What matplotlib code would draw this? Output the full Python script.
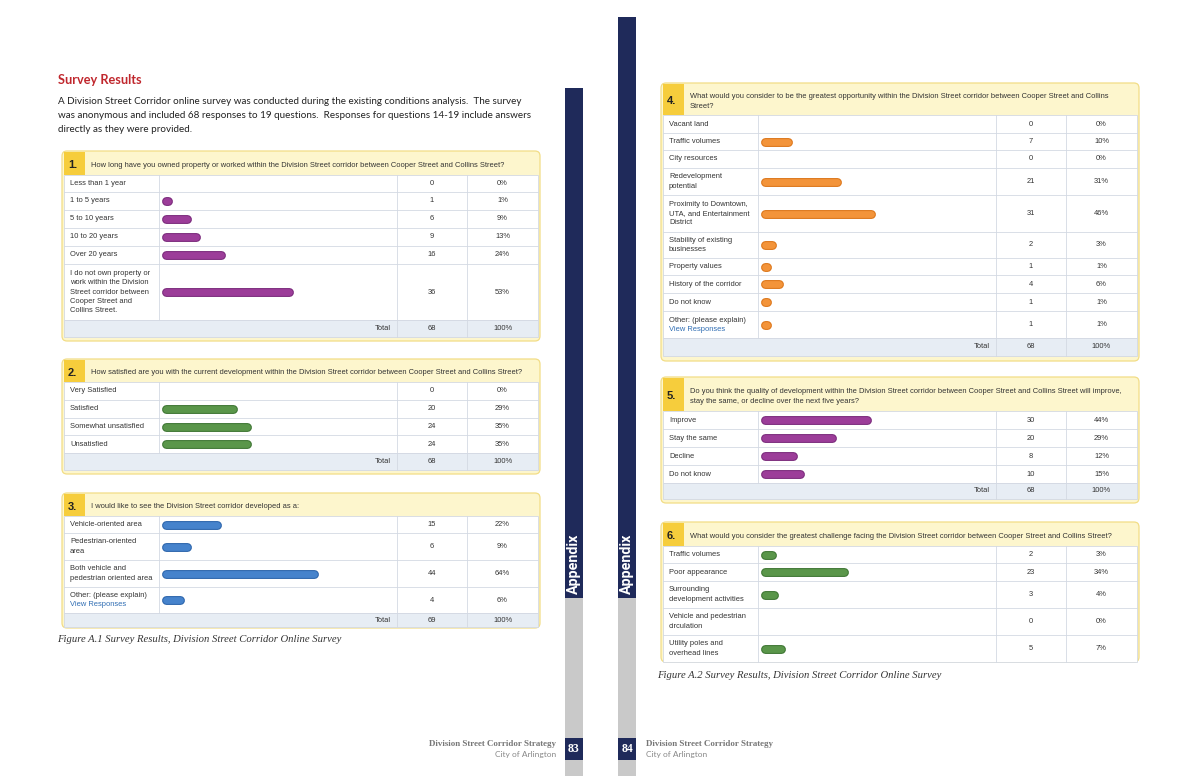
import matplotlib
matplotlib.use("Agg")
import matplotlib.pyplot as plt
from matplotlib.patches import Rectangle, FancyBboxPatch

# ---- survey data ----
q1_question = "How long have you owned property or worked within the Division Street corridor between Cooper Street and Collins Street?"
q1_labels = ["Less than 1 year", "1 to 5 years", "5 to 10 years", "10 to 20 years", "Over 20 years",
             "I do not own property or\nwork within the Division\nStreet corridor between\nCooper Street and\nCollins Street."]
q1_counts = [0, 1, 6, 9, 16, 36]
q1_pcts = [0, 1, 9, 13, 24, 53]
q1_total = 68

q2_question = "How satisfied are you with the current development within the Division Street corridor between Cooper Street and Collins Street?"
q2_labels = ["Very Satisfied", "Satisfied", "Somewhat unsatisfied", "Unsatisfied"]
q2_counts = [0, 20, 24, 24]
q2_pcts = [0, 29, 35, 35]
q2_total = 68

q3_question = "I would like to see the Division Street corridor developed as a:"
q3_labels = ["Vehicle-oriented area", "Pedestrian-oriented\narea", "Both vehicle and\npedestrian oriented area",
             "Other: (please explain)\nView Responses"]
q3_counts = [15, 6, 44, 4]
q3_pcts = [22, 9, 64, 6]
q3_total = 69

q4_question = ("What would you consider to be the greatest opportunity within the Division Street corridor between Cooper Street and Collins\n"
               "Street?")
q4_labels = ["Vacant land", "Traffic volumes", "City resources", "Redevelopment\npotential",
             "Proximity to Downtown,\nUTA, and Entertainment\nDistrict", "Stability of existing\nbusinesses",
             "Property values", "History of the corridor", "Do not know", "Other: (please explain)\nView Responses"]
q4_counts = [0, 7, 0, 21, 31, 2, 1, 4, 1, 1]
q4_pcts = [0, 10, 0, 31, 46, 3, 1, 6, 1, 1]
q4_total = 68

q5_question = ("Do you think the quality of development within the Division Street corridor between Cooper Street and Collins Street will improve,\n"
               "stay the same, or decline over the next five years?")
q5_labels = ["Improve", "Stay the same", "Decline", "Do not know"]
q5_counts = [30, 20, 8, 10]
q5_pcts = [44, 29, 12, 15]
q5_total = 68

q6_question = "What would you consider the greatest challenge facing the Division Street corridor between Cooper Street and Collins Street?"
q6_labels = ["Traffic volumes", "Poor appearance", "Surrounding\ndevelopment activities",
             "Vehicle and pedestrian\ncirculation", "Utility poles and\noverhead lines"]
q6_counts = [2, 23, 3, 0, 5]
q6_pcts = [3, 34, 4, 0, 7]

# ---- styling ----
W, H = 1200, 776
NAVY = "#1f2a5a"
SIDE_GRAY = "#c9c9c9"
FRAME_FILL = "#fdf6cd"
FRAME_EDGE = "#f2dd86"
NUM_FILL = "#f6cd3c"
GRID = "#d3d9e3"
TOTAL_FILL = "#e7edf4"
TXT = "#333333"
LINK = "#2f6db3"
TFONT = "Liberation Sans"
TSIZE = 5.4
QSIZE = 5.45
PX_PER_PCT = 2.32

BAR_COLORS = {
    "purple": ("#7a2a7b", "#9c3d99"),
    "green": ("#3d7532", "#5a964a"),
    "blue": ("#2b64ab", "#4683cc"),
    "orange": ("#dc7518", "#f3943a"),
}

fig = plt.figure(figsize=(12, 7.76), dpi=100)
bg = fig.add_axes([0, 0, 1, 1])
bg.set_xlim(0, W)
bg.set_ylim(H, 0)
bg.axis("off")


def draw_table(x0, top, hdr, edges, total_bottom, frame_bottom, number, question,
               labels, counts, pcts, total, color):
    x1 = x0 + 474
    c1, c2, c3 = x0 + 95, x0 + 333, x0 + 403
    body_bottom = total_bottom if total is not None else edges[-1]

    # yellow frame + header band
    bg.add_patch(FancyBboxPatch((x0 - 2, top), x1 - x0 + 4, frame_bottom - top,
                                boxstyle="round,pad=0,rounding_size=5",
                                fc=FRAME_FILL, ec=FRAME_EDGE, lw=0.9, zorder=1))
    bg.add_patch(Rectangle((x0, top + 1), 21, hdr - top - 1, fc=NUM_FILL, ec="none", zorder=2))
    hc = (top + hdr) / 2
    bg.text(x0 + 4, hc + 2, number, fontsize=8, fontweight="bold", color="#222222",
            family=TFONT, va="center", ha="left", zorder=3)
    bg.text(x0 + 27, hc + 2.5, question, fontsize=QSIZE, color=TXT, family=TFONT,
            va="center", ha="left", linespacing=1.6, zorder=3)

    # table body
    bg.add_patch(Rectangle((x0, hdr), x1 - x0, edges[-1] - hdr, fc="white", ec=GRID, lw=0.6, zorder=2))
    if total is not None:
        bg.add_patch(Rectangle((x0, edges[-1]), x1 - x0, total_bottom - edges[-1],
                               fc=TOTAL_FILL, ec=GRID, lw=0.6, zorder=2))
    for e in edges[1:-1]:
        bg.plot([x0, x1], [e, e], color=GRID, lw=0.6, zorder=3)
    bg.plot([c1, c1], [hdr, edges[-1]], color=GRID, lw=0.6, zorder=3)
    for cx in (c2, c3):
        bg.plot([cx, cx], [hdr, body_bottom], color=GRID, lw=0.6, zorder=3)

    centers = [(edges[i] + edges[i + 1]) / 2 for i in range(len(labels))]
    for yc, lab, n, p in zip(centers, labels, counts, pcts):
        if lab.endswith("\nView Responses"):
            first = lab.split("\n")[0]
            bg.text(x0 + 6, yc - 4.5, first, fontsize=TSIZE, color=TXT, family=TFONT,
                    va="center", ha="left", zorder=4)
            bg.text(x0 + 6, yc + 5, "View Responses", fontsize=TSIZE, color=LINK, family=TFONT,
                    va="center", ha="left", zorder=4)
        else:
            bg.text(x0 + 6, yc, lab, fontsize=TSIZE, color=TXT, family=TFONT,
                    va="center", ha="left", linespacing=1.45, zorder=4)
        bg.text((c2 + c3) / 2, yc, str(n), fontsize=TSIZE, color=TXT, family=TFONT,
                va="center", ha="center", zorder=4)
        bg.text((c3 + x1) / 2, yc, f"{p}%", fontsize=TSIZE, color=TXT, family=TFONT,
                va="center", ha="center", zorder=4)
    if total is not None:
        yt = (edges[-1] + total_bottom) / 2
        bg.text(c2 - 6, yt, "Total", fontsize=TSIZE, color=TXT, family=TFONT, va="center", ha="right", zorder=4)
        bg.text((c2 + c3) / 2, yt, str(total), fontsize=TSIZE, color=TXT, family=TFONT,
                va="center", ha="center", zorder=4)
        bg.text((c3 + x1) / 2, yt, "100%", fontsize=TSIZE, color=TXT, family=TFONT,
                va="center", ha="center", zorder=4)

    # bars in their own axes, x in percent
    ax = fig.add_axes([c1 / W, 1 - edges[-1] / H, (c2 - c1) / W, (edges[-1] - hdr) / H])
    ax.set_xlim(-6.7 / PX_PER_PCT, (c2 - c1 - 6.7) / PX_PER_PCT)
    ax.set_ylim(edges[-1], hdr)
    ax.axis("off")
    ax.patch.set_alpha(0)
    ys = [y for y, p in zip(centers, pcts) if p > 0]
    ps = [p for p in pcts if p > 0]
    dark, light = BAR_COLORS[color]
    ax.hlines(ys, 0, ps, colors=dark, lw=6.4, capstyle="round", zorder=2)
    ax.hlines(ys, 0, ps, colors=light, lw=4.9, capstyle="round", zorder=3)


# ---- side bands ----
bg.add_patch(Rectangle((565, 88), 18, 510, fc=NAVY, ec="none"))
bg.add_patch(Rectangle((565, 598), 18, H - 598, fc=SIDE_GRAY, ec="none"))
bg.add_patch(Rectangle((618, 17), 18, 581, fc=NAVY, ec="none"))
bg.add_patch(Rectangle((618, 598), 18, H - 598, fc=SIDE_GRAY, ec="none"))
for sx in (574, 627):
    bg.text(sx, 564, "Appendix", rotation=90, color="white", fontsize=10.3, fontweight="bold",
            family="Roboto", va="center", ha="center")
for sx, num in ((565, "83"), (618, "84")):
    bg.add_patch(Rectangle((sx, 738), 18, 22, fc=NAVY, ec="none", zorder=3))
    bg.text(sx + 9, 749.5, num, color="white", fontsize=8.5, fontweight="bold",
            family="Liberation Serif", va="center", ha="center", zorder=4)

# ---- left page text ----
bg.text(58, 80, "Survey Results", color="#c0272d", fontsize=9.2, fontweight="bold", family="Lato",
        va="center", ha="left")
para = ["A Division Street Corridor online survey was conducted during the existing conditions analysis.  The survey",
        "was anonymous and included 68 responses to 19 questions.  Responses for questions 14-19 include answers",
        "directly as they were provided."]
for i, line in enumerate(para):
    bg.text(58, 102 + i * 13.5, line, color="#222222", fontsize=7.15, family="Lato", va="center", ha="left")

draw_table(64, 151, 175, [175, 192, 210, 228, 246, 264, 320], 337, 341, "1.", q1_question,
           q1_labels, q1_counts, q1_pcts, q1_total, "purple")
draw_table(64, 359, 382, [382, 400, 418, 435, 453], 470, 474, "2.", q2_question,
           q2_labels, q2_counts, q2_pcts, q2_total, "green")
draw_table(64, 493, 516, [516, 533, 560, 587, 613], 627, 628, "3.", q3_question,
           q3_labels, q3_counts, q3_pcts, q3_total, "blue")
bg.text(57, 639, "Figure A.1 Survey Results, Division Street Corridor Online Survey", fontsize=7.7,
        style="italic", family="Liberation Serif", color="#333333", va="center", ha="left")

# ---- right page tables ----
draw_table(663, 83, 115, [115, 133, 150, 168, 195, 232, 258, 275, 293, 311, 338], 356, 361, "4.", q4_question,
           q4_labels, q4_counts, q4_pcts, q4_total, "orange")
draw_table(663, 377, 411, [411, 429, 447, 465, 483], 499, 503, "5.", q5_question,
           q5_labels, q5_counts, q5_pcts, q5_total, "purple")
draw_table(663, 522, 546, [546, 563, 581, 608, 635, 662], None, 662, "6.", q6_question,
           q6_labels, q6_counts, q6_pcts, None, "green")
bg.text(657, 675, "Figure A.2 Survey Results, Division Street Corridor Online Survey", fontsize=7.7,
        style="italic", family="Liberation Serif", color="#333333", va="center", ha="left")

# ---- footers ----
bg.text(556, 744, "Division Street Corridor Strategy", fontsize=6.4, fontweight="bold",
        family="Liberation Serif", color="#777777", va="center", ha="right")
bg.text(556, 754, "City of Arlington", fontsize=6.0, family="Lato", color="#888888", va="center", ha="right")
bg.text(646, 744, "Division Street Corridor Strategy", fontsize=6.4, fontweight="bold",
        family="Liberation Serif", color="#777777", va="center", ha="left")
bg.text(646, 754, "City of Arlington", fontsize=6.0, family="Lato", color="#888888", va="center", ha="left")

fig.savefig("out.png", dpi=100, facecolor="white")
